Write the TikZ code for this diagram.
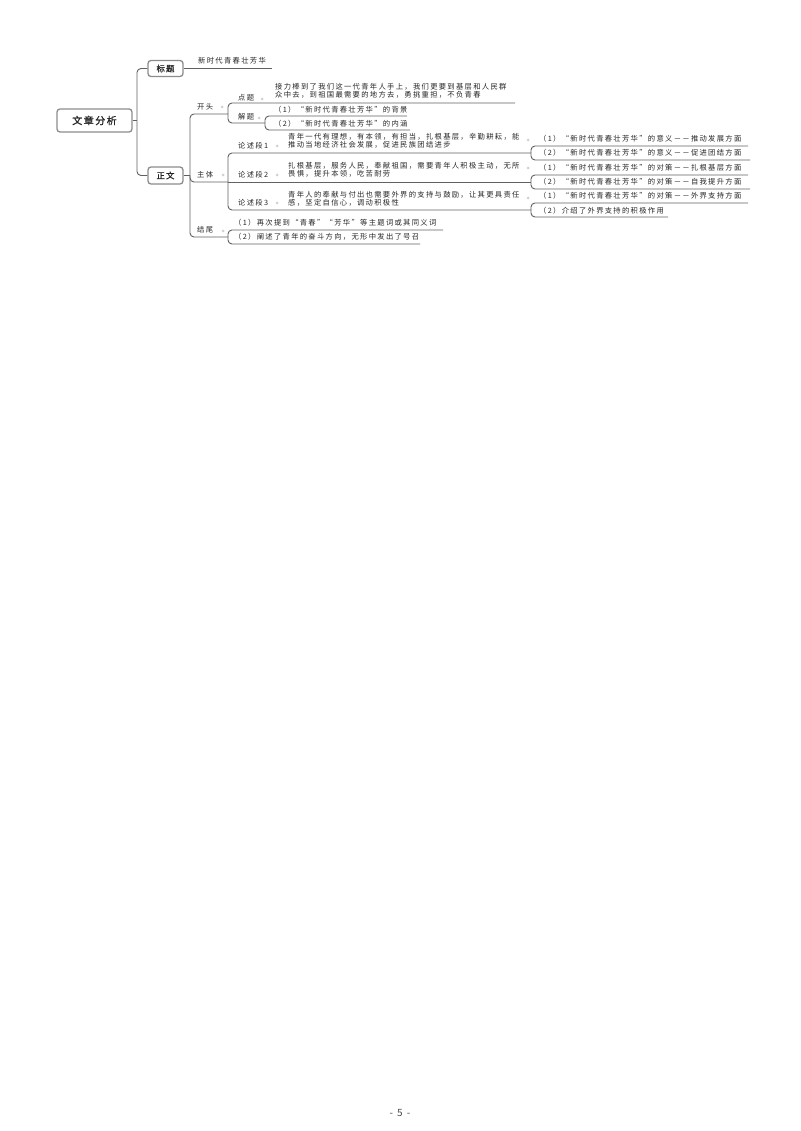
\documentclass[tikz,border=0pt]{standalone}
\usepackage{fontspec}
\setmainfont{Noto Sans CJK SC}[LetterSpace=18]
\newfontfamily\boxfont{Noto Sans CJK SC}[FakeBold=1.2,LetterSpace=15]
\begin{document}
\begin{tikzpicture}[x=1pt,y=-1pt,
  ln/.style={draw=black!62, line width=0.9pt, rounded corners=4pt},
  txt/.style={anchor=west, inner sep=0pt, font=\fontsize{7.3}{8}\selectfont, text=black!85},
  para/.style={txt, align=left},
  box/.style={draw=black!45, line width=1.3pt, rounded corners=3pt, fill=white, inner sep=0pt, text=black!85},
  mk/.style={circle, fill=black!18, inner sep=0pt, minimum size=3pt}]
\useasboundingbox[fill=white] (0,0) rectangle (800,1131);

% root and first level
\node[box, minimum width=75pt, minimum height=23pt, font=\boxfont\fontsize{10}{11}\selectfont] (root) at (94.5,120.5) {文章分析};
\node[box, minimum width=35pt, minimum height=16pt, font=\boxfont\fontsize{8.3}{9}\selectfont] (bt) at (165.5,68.5) {标题};
\node[box, minimum width=35pt, minimum height=17pt, font=\boxfont\fontsize{8.3}{9}\selectfont] (zw) at (165.5,175.5) {正文};

\coordinate (j0) at (137,120.5);
\draw[ln] (root.east) -- (j0);
\draw[ln] (j0) |- (bt.west);
\draw[ln] (j0) |- (zw.west);

% title branch
\coordinate (btE) at (272,68.5);
\draw[ln] (bt.east) -- (btE);
\node[txt] (btT) at (198,61) {新时代青春壮芳华};

% trunk of 正文
\coordinate (t0) at (190,175.5);
\coordinate (k1) at (228,114);
\coordinate (k2) at (228,182);
\coordinate (k3) at (228,237);
\draw[ln] (zw.east) -- (t0);
\draw[ln] (t0) |- (k1);
\draw[ln] (t0) |- (k2);
\draw[ln] (t0) |- (k3);
\node[txt] (kt) at (197,107) {开头};
\node[txt] (zt) at (197,175) {主体};
\node[txt] (jw) at (197,230) {结尾};

% 开头
\coordinate (dtE) at (515,103);
\coordinate (k11) at (265,123);
\draw[ln] (k1) |- (dtE);
\draw[ln] (k1) |- (k11);
\node[txt] (dt) at (238,98) {点题};
\node[para] (dtC) at (275,91) {接力棒到了我们这一代青年人手上，我们更要到基层和人民群\\众中去，到祖国最需要的地方去，勇挑重担，不负青春};
\node[txt] (jt) at (238,117) {解题};
\coordinate (jt1E) at (407,116);
\coordinate (jt2E) at (410,130);
\draw[ln] (k11) |- (jt1E);
\draw[ln] (k11) |- (jt2E);
\node[txt] (jt1) at (274,110) {（1）“新时代青春壮芳华”的背景};
\node[txt] (jt2) at (274,123.5) {（2）“新时代青春壮芳华”的内涵};

% 主体
\coordinate (k20) at (531,153);
\coordinate (k21) at (531,182);
\coordinate (k22) at (531,210);
\draw[ln] (k2) |- (k20);
\draw[ln] (k2) -- (k21);
\draw[ln] (k2) |- (k22);
\node[txt] (ls1) at (238,146) {论述段1};
\node[txt] (ls2) at (238,175) {论述段2};
\node[txt] (ls3) at (238,203) {论述段3};
\node[para] (c1) at (288,141) {青年一代有理想，有本领，有担当，扎根基层，辛勤耕耘，能\\推动当地经济社会发展，促进民族团结进步};
\node[para] (c2) at (288,169.5) {扎根基层，服务人民，奉献祖国，需要青年人积极主动，无所\\畏惧，提升本领，吃苦耐劳};
\node[para] (c3) at (288,199) {青年人的奉献与付出也需要外界的支持与鼓励，让其更具责任\\感，坚定自信心，调动积极性};

\coordinate (r11E) at (748,146);
\coordinate (r12E) at (750,160);
\coordinate (r21E) at (748,175);
\coordinate (r22E) at (750,189);
\coordinate (r31E) at (748,203);
\coordinate (r32E) at (668,217);
\draw[ln] (k20) |- (r11E);
\draw[ln] (k20) |- (r12E);
\draw[ln] (k21) |- (r21E);
\draw[ln] (k21) |- (r22E);
\draw[ln] (k22) |- (r31E);
\draw[ln] (k22) |- (r32E);
\node[txt] (r11) at (539,139) {（1）“新时代青春壮芳华”的意义－－推动发展方面};
\node[txt] (r12) at (539,153) {（2）“新时代青春壮芳华”的意义－－促进团结方面};
\node[txt] (r21) at (539,168) {（1）“新时代青春壮芳华”的对策－－扎根基层方面};
\node[txt] (r22) at (539,182) {（2）“新时代青春壮芳华”的对策－－自我提升方面};
\node[txt] (r31) at (539,196) {（1）“新时代青春壮芳华”的对策－－外界支持方面};
\node[txt] (r32) at (539,210.5) {（2）介绍了外界支持的积极作用};

% 结尾
\coordinate (e1E) at (443,230);
\coordinate (e2E) at (420,244);
\draw[ln] (k3) |- (e1E);
\draw[ln] (k3) |- (e2E);
\node[txt] (e1) at (234,223) {（1）再次提到“青春”“芳华”等主题词或其同义词};
\node[txt] (e2) at (234,237) {（2）阐述了青年的奋斗方向，无形中发出了号召};

% collapse marks
\node[mk] (m1) at (222,107) {};
\node[mk] (m2) at (223,175) {};
\node[mk] (m3) at (223,231) {};
\node[mk] (m4) at (262,99) {};
\node[mk] (m5) at (259,118) {};
\node[mk] (m6) at (277,146) {};
\node[mk] (m7) at (277,175) {};
\node[mk] (m8) at (277,203) {};
\node[mk] (m9) at (528,140) {};
\node[mk] (m10) at (528,168) {};
\node[mk] (m11) at (528,198) {};

% page number
\node[inner sep=0pt, font=\fontsize{10}{12}\selectfont, text=black!70] (pg) at (400,1113) {- 5 -};
\end{tikzpicture}
\end{document}
